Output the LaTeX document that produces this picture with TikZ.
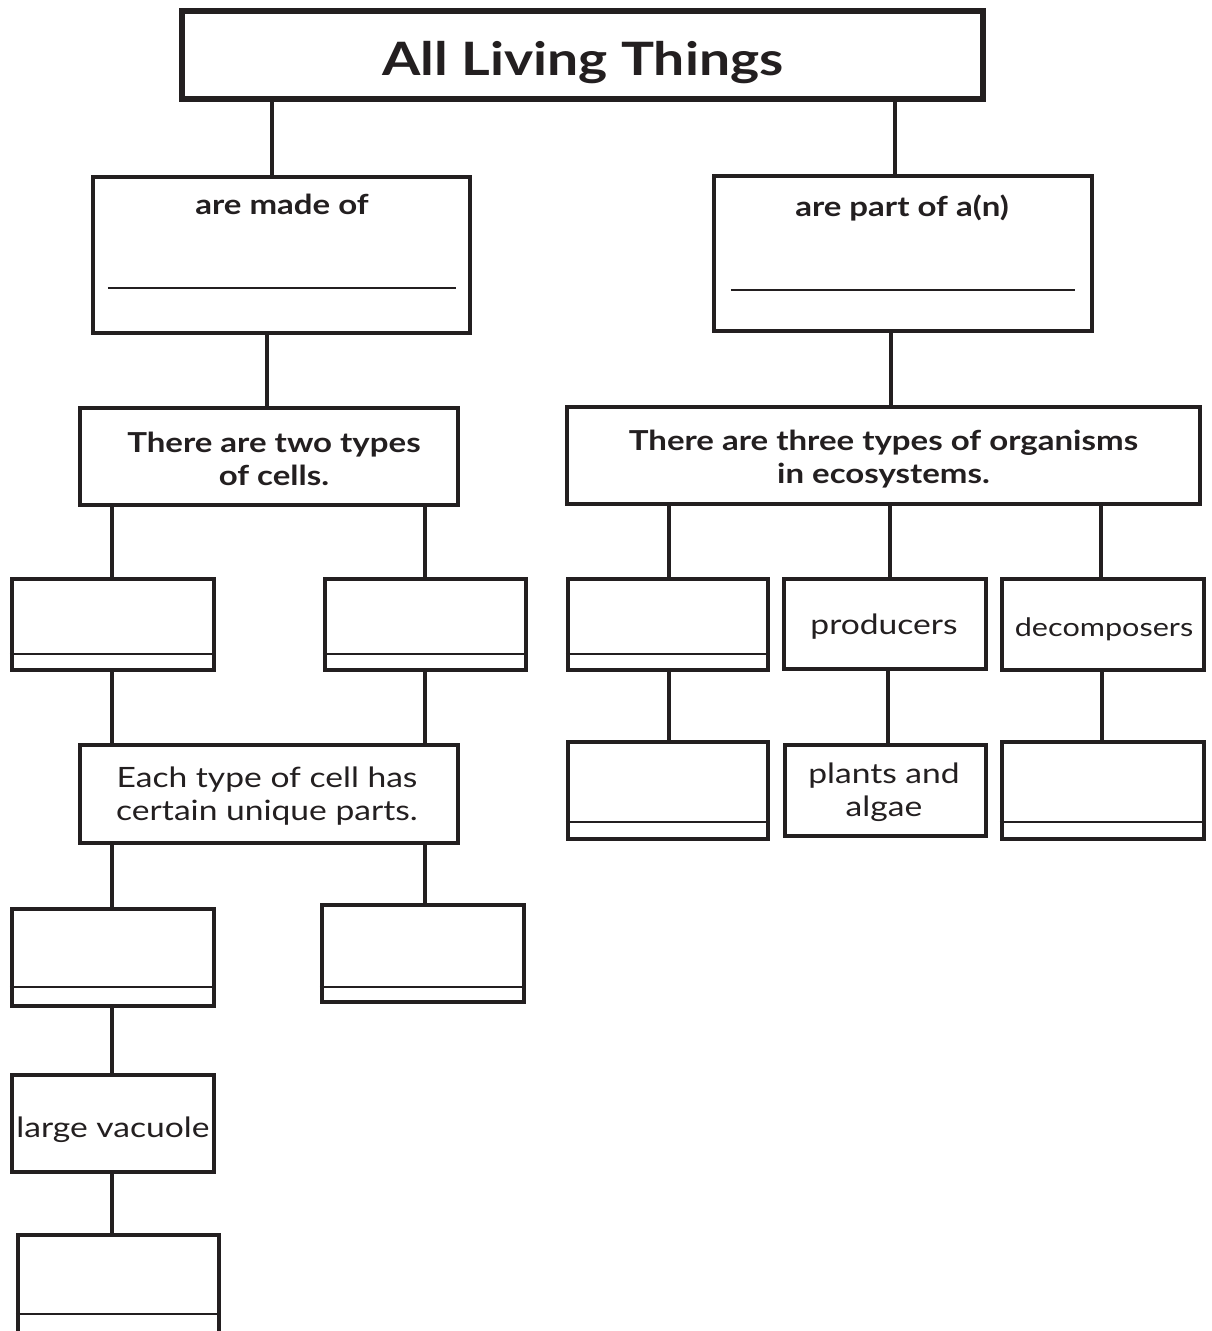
\documentclass[tikz,border=0pt]{standalone}
\usepackage{fontspec}
\setmainfont[FakeStretch=1.2]{Lato}
\definecolor{ink}{RGB}{35,31,32}
\begin{document}
\begin{tikzpicture}[x=1pt,y=-1pt,
  box/.style={draw=ink, line width=4.5pt, rectangle, inner sep=0pt, fill=white},
  titlebox/.style={box, line width=6pt},
  conn/.style={draw=ink, line width=3.2pt},
  rule/.style={draw=ink, line width=2pt},
  lbl/.style={text=ink, inner sep=0pt, align=center, font=\fontsize{28}{33.5}\selectfont},
  blbl/.style={text=ink, inner sep=0pt, align=center, font=\bfseries\fontsize{27.5}{33}\selectfont},
  ttl/.style={text=ink, inner sep=0pt, font=\bfseries\fontsize{46}{50}\selectfont}]
\useasboundingbox (0,0) rectangle (1211,1331);
\fill[white] (0,0) rectangle (1211,1331);

% title
\node[titlebox, minimum width=801, minimum height=88] (title) at (582.5,55) {};
\node[ttl, anchor=base] (titletxt) at (583,75) {All Living Things};

% second level
\node[box, minimum width=377, minimum height=156] (madeof) at (281.5,255) {};
\node[blbl, anchor=base] (madeoftxt) at (282,214) {are made of};
\draw[rule] ([xshift=17pt]madeof.west |- 0,288) -- ([xshift=-16pt]madeof.east |- 0,288);

\node[box, minimum width=378, minimum height=155] (partof) at (903,253.5) {};
\node[blbl, anchor=base] (partoftxt) at (902,216) {are part of a(n)};
\draw[rule] ([xshift=19pt]partof.west |- 0,290) -- ([xshift=-19pt]partof.east |- 0,290);

% third level (multi-line labels are placed by their last baseline)
\node[box, minimum width=378, minimum height=97] (twotypes) at (269,456.5) {};
\node[blbl, anchor=base] (twotxt) at (274,485) {There are two types\\of cells.};

\node[box, minimum width=633, minimum height=97] (threetypes) at (883.5,455.5) {};
\node[blbl, anchor=base] (threetxt) at (883.5,483.5) {There are three types of organisms\\in ecosystems.};

% cell type boxes
\node[box, minimum width=202, minimum height=91] (celA) at (113,624.5) {};
\node[box, minimum width=201, minimum height=91] (celB) at (425.5,624.5) {};

% organism boxes
\node[box, minimum width=200, minimum height=91] (orgA) at (668,624.5) {};
\node[box, minimum width=202, minimum height=90] (prod) at (885,624) {};
\node[lbl, anchor=base] (prodtxt) at (884,634) {producers};
\node[box, minimum width=202, minimum height=91] (decomp) at (1103,624.5) {};
\node[lbl, anchor=base, font=\fontsize{25.5}{30}\selectfont] (decomptxt) at (1104,636) {decomposers};

\node[box, minimum width=200, minimum height=97] (orgAex) at (668,790.5) {};
\node[box, minimum width=201, minimum height=91] (plants) at (885.5,790.5) {};
\node[lbl, anchor=base] (plantstxt) at (884,816.7) {plants and\\algae};
\node[box, minimum width=202, minimum height=97] (decompex) at (1103,790.5) {};

% unique parts
\node[box, minimum width=378, minimum height=98] (each) at (269,794) {};
\node[lbl, anchor=base] (eachtxt) at (267,820.7) {Each type of cell has\\certain unique parts.};

\node[box, minimum width=202, minimum height=97] (partA) at (113,957.5) {};
\node[box, minimum width=202, minimum height=97] (partB) at (423,953.5) {};

\node[box, minimum width=202, minimum height=97] (vacuole) at (113,1123.5) {};
\node[lbl, anchor=base] (vacuoletxt) at (113,1137) {large vacuole};

% last box runs past the lower edge
\begin{scope}
\clip (0,0) rectangle (1211,1331);
\node[box, minimum width=201, minimum height=125] (partC) at (118.5,1297.5) {};
\draw[rule] (partC.west |- 0,1314) -- (partC.east |- 0,1314);
\end{scope}

% answer lines inside the blank boxes
\foreach \n/\y in {celA/654, celB/654, orgA/654, orgAex/822, decompex/822, partA/987, partB/987}
  \draw[rule] (\n.west |- 0,\y) -- (\n.east |- 0,\y);

% connectors
\draw[conn] (title.south -| 272,0) -- (madeof.north -| 272,0);
\draw[conn] (title.south -| 895,0) -- (partof.north -| 895,0);
\draw[conn] (madeof.south -| 267,0) -- (twotypes.north -| 267,0);
\draw[conn] (partof.south -| 891,0) -- (threetypes.north -| 891,0);
\draw[conn] (twotypes.south -| 112,0) -- (celA.north -| 112,0);
\draw[conn] (twotypes.south -| 425,0) -- (celB.north -| 425,0);
\draw[conn] (threetypes.south -| 669,0) -- (orgA.north -| 669,0);
\draw[conn] (threetypes.south -| 890,0) -- (prod.north -| 890,0);
\draw[conn] (threetypes.south -| 1101,0) -- (decomp.north -| 1101,0);
\draw[conn] (orgA.south -| 669,0) -- (orgAex.north -| 669,0);
\draw[conn] (prod.south -| 888,0) -- (plants.north -| 888,0);
\draw[conn] (decomp.south -| 1102,0) -- (decompex.north -| 1102,0);
\draw[conn] (celA.south -| 112,0) -- (each.north -| 112,0);
\draw[conn] (celB.south -| 425,0) -- (each.north -| 425,0);
\draw[conn] (each.south -| 112,0) -- (partA.north -| 112,0);
\draw[conn] (each.south -| 425,0) -- (partB.north -| 425,0);
\draw[conn] (partA.south -| 112,0) -- (vacuole.north -| 112,0);
\draw[conn] (vacuole.south -| 112,0) -- (partC.north -| 112,0);
\end{tikzpicture}
\end{document}
